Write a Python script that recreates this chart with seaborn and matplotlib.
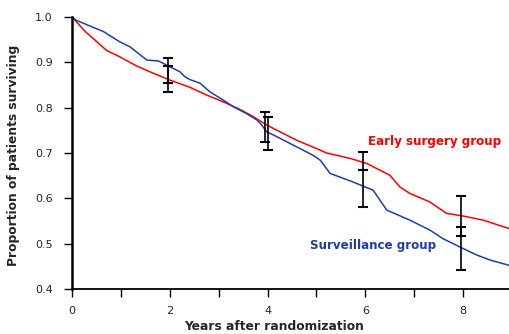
import numpy as np
import pandas as pd
import seaborn as sns
import matplotlib.pyplot as plt

# survival curves (years, proportion surviving)
surg_years = [0, 0.27, 0.47, 0.71, 0.98, 1.32, 1.66, 2.0, 2.41, 2.75, 3.09, 3.44, 3.71, 3.98,
              4.25, 4.60, 5.04, 5.21, 5.69, 6.03, 6.50, 6.71, 6.91, 7.32, 7.66, 8.0, 8.41, 8.95]
surg_surv = [1.0, 0.968, 0.949, 0.926, 0.912, 0.892, 0.876, 0.861, 0.845, 0.828, 0.813, 0.796, 0.780, 0.762,
             0.747, 0.728, 0.708, 0.700, 0.688, 0.677, 0.651, 0.625, 0.611, 0.592, 0.567, 0.561, 0.552, 0.533]

surv_years = [0, 0.08, 0.37, 0.64, 0.98, 1.19, 1.53, 1.77, 1.97, 2.21, 2.31, 2.41, 2.62, 2.82, 3.09, 3.30,
              3.57, 3.78, 3.88, 3.98, 4.19, 4.46, 4.66, 4.93, 5.08, 5.28, 5.75, 6.16, 6.44, 6.91,
              7.32, 7.59, 7.93, 8.28, 8.55, 8.95]
surv_surv = [1.0, 0.993, 0.980, 0.968, 0.945, 0.934, 0.905, 0.903, 0.892, 0.879, 0.868, 0.862, 0.854, 0.835,
             0.817, 0.802, 0.787, 0.773, 0.762, 0.747, 0.736, 0.721, 0.710, 0.695, 0.684, 0.655, 0.636,
             0.618, 0.574, 0.552, 0.530, 0.511, 0.493, 0.475, 0.464, 0.452]

# confidence bars (x, lower, upper)
ci_x = [1.97, 1.97, 3.95, 4.0, 5.95, 5.95, 7.95, 7.95]
ci_low = [0.835, 0.855, 0.725, 0.706, 0.662, 0.582, 0.516, 0.442]
ci_high = [0.893, 0.910, 0.791, 0.779, 0.703, 0.662, 0.606, 0.536]

red = "#ff0000"
blue = "#1f3fa8"

df = pd.concat([
    pd.DataFrame({"years": surg_years, "surv": surg_surv, "group": "Early surgery group"}),
    pd.DataFrame({"years": surv_years, "surv": surv_surv, "group": "Surveillance group"}),
])

sns.set_style("ticks")
plt.rcParams['font.family'] = ['DejaVu Sans']

fig = plt.figure(figsize=(5.09, 3.34), dpi=100)
ax = fig.add_axes([0.1415, 0.1347, 0.8585, 0.8144])

sns.lineplot(data=df, x="years", y="surv", hue="group", palette={"Early surgery group": red,
             "Surveillance group": blue}, linewidth=1.1, legend=False, ax=ax, estimator=None, sort=False)

mid = (np.array(ci_low) + np.array(ci_high)) / 2
half = (np.array(ci_high) - np.array(ci_low)) / 2
ax.errorbar(ci_x, mid, yerr=half, fmt="none", ecolor="black", elinewidth=1.2, capsize=3.5, capthick=1.5)

ax.text(6.05, 0.725, "Early surgery group", color=red, fontsize=8.6, fontweight="bold", va="center")
ax.text(4.87, 0.497, "Surveillance group", color=blue, fontsize=8.6, fontweight="bold", va="center")

ax.set_xlim(0, 8.94)
ax.set_ylim(0.4, 1.0)
ax.set_xticks([0, 1, 2, 3, 4, 5, 6, 7, 8])
ax.set_xticklabels(["0", "", "2", "", "4", "", "6", "", "8"])
ax.set_yticks([0.4, 0.5, 0.6, 0.7, 0.8, 0.9, 1.0])
ax.set_yticklabels(["0.4", "0.5", "0.6", "0.7", "0.8", "0.9", "1.0"])
ax.tick_params(axis="both", labelsize=8, length=6, width=1, color="black")
ax.tick_params(axis="y", pad=8)
ax.tick_params(axis="x", pad=6)

for s in ["top", "right"]:
    ax.spines[s].set_visible(False)
ax.spines["left"].set_linewidth(1.8)
ax.spines["bottom"].set_linewidth(1.3)
ax.spines["left"].set_color("black")
ax.spines["bottom"].set_color("black")

ax.set_xlabel("Years after randomization", fontsize=8.8, fontweight="bold")
ax.set_ylabel("Proportion of patients surviving", fontsize=8.8, fontweight="bold")
ax.xaxis.set_label_coords(0.462, -0.115)
ax.yaxis.set_label_coords(-0.118, 0.49)

fig.savefig("out.png", dpi=100)
